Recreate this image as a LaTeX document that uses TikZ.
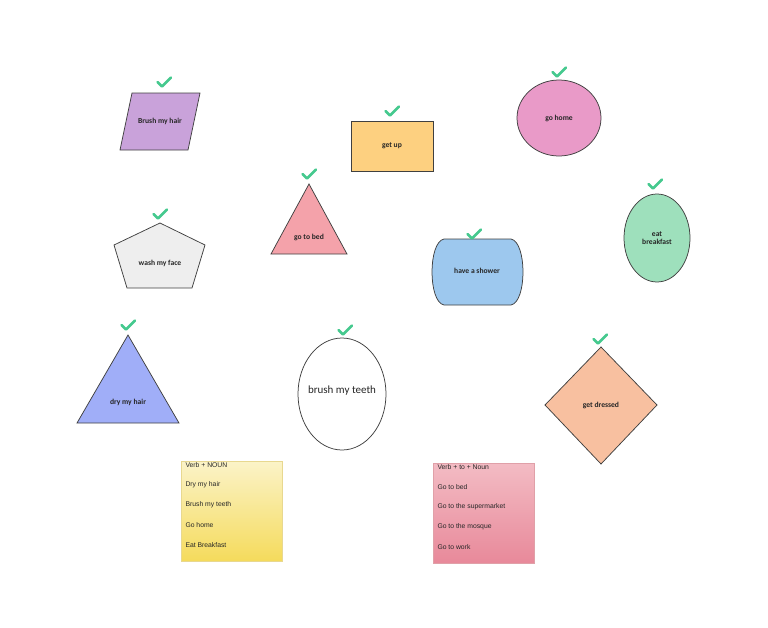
\documentclass[tikz,border=0pt]{standalone}
\usepackage{fontspec}
\setmainfont{Carlito}
\newfontfamily\notefont{Liberation Sans}
\usetikzlibrary{shapes.geometric,calc}
\definecolor{cpurple}{HTML}{C9A2DA}
\definecolor{corange}{HTML}{FDD080}
\definecolor{cpink}{HTML}{E99AC8}
\definecolor{crose}{HTML}{F4A2AA}
\definecolor{cgrey}{HTML}{EEEEEE}
\definecolor{cblue}{HTML}{9DC8EE}
\definecolor{cmint}{HTML}{9EE0BC}
\definecolor{cperi}{HTML}{A0AEF8}
\definecolor{cpeach}{HTML}{F8C0A0}
\definecolor{ccheck}{HTML}{45C98E}
\definecolor{cyeltop}{HTML}{FBF3C8}
\definecolor{cyelbot}{HTML}{F5DB5C}
\definecolor{cyeledge}{HTML}{E8D890}
\definecolor{cpnktop}{HTML}{F3BCC4}
\definecolor{cpnkbot}{HTML}{E8899A}
\definecolor{cpnkedge}{HTML}{E0A0A8}
\tikzset{
  shapebox/.style={draw=black!75, line width=0.75pt},
  lbl/.style={font=\bfseries\fontsize{7.6}{8.6}\selectfont, text=black!85, align=center},
  notetxt/.style={font=\notefont\fontsize{6.8}{7}\selectfont, text=black!85, anchor=west},
  chk/.style={draw=ccheck, line width=2.5pt, line cap=round, line join=round}
}
\newcommand\checkat[2]{\draw[chk] ($(#1,#2)+(-6.5,0)$) -- ($(#1,#2)+(-2,4.5)$) -- ($(#1,#2)+(7,-4.5)$);}
\begin{document}
\begin{tikzpicture}[x=1pt,y=-1pt]
\useasboundingbox (0,0) rectangle (768,627);
% Brush my hair
\path[shapebox, fill=cpurple] (120,150) -- (132,93) -- (200,93) -- (188,150) -- cycle;
\node[lbl] (brushhair) at (160,121) {Brush my hair};
\checkat{164}{82}
% get up
\path[shapebox, fill=corange] (351,121) rectangle (433,171);
\node[lbl] (getup) at (392,146) {get up};
\checkat{392}{111}
% go home
\path[shapebox, fill=cpink] (559,118) ellipse [x radius=42, y radius=38];
\node[lbl] (gohome) at (559,118) {go home};
\checkat{559}{72}
% go to bed
\path[shapebox, fill=crose] (309,184) -- (347,254) -- (271,254) -- cycle;
\node[lbl] (gotobed) at (309,237) {go to bed};
\checkat{309}{174}
% wash my face
\path[shapebox, fill=cgrey] (160,223) -- (205,245) -- (192,288) -- (127,288) -- (114,245) -- cycle;
\node[lbl] (washface) at (160,263) {wash my face};
\checkat{160}{214}
% have a shower
\path[shapebox, fill=cblue] (444,239) -- (511,239) .. controls (527,242) and (527,302) .. (511,305) -- (444,305) .. controls (428,302) and (428,242) .. (444,239) -- cycle;
\node[lbl] (shower) at (477,271) {have a shower};
\checkat{474}{234}
% eat breakfast
\path[shapebox, fill=cmint] (657,238) ellipse [x radius=33, y radius=44];
\node[lbl] (breakfast) at (657,238) {eat\\breakfast};
\checkat{655}{184}
% dry my hair
\path[shapebox, fill=cperi] (128,335) -- (179,423) -- (77,423) -- cycle;
\node[lbl] (dryhair) at (128,402) {dry my hair};
\checkat{128}{325}
% brush my teeth
\path[draw=black!75, line width=0.75pt, fill=white] (342,394) ellipse [x radius=44, y radius=56];
\node[font=\fontsize{11}{12}\selectfont, text=black!85] (teeth) at (342,391) {brush my teeth};
\checkat{345}{330}
% get dressed
\path[shapebox, fill=cpeach] (601,347) -- (657,405) -- (601,464) -- (545,405) -- cycle;
\node[lbl] (dressed) at (601,405) {get dressed};
\checkat{600}{339}
% yellow note
\path[draw=cyeledge, line width=0.6pt, top color=cyeltop, bottom color=cyelbot] (181,461) rectangle (282,561);
\node[notetxt] (y1) at (182,465) {Verb + NOUN};
\node[notetxt] (y2) at (182,485) {Dry my hair};
\node[notetxt] (y3) at (182,505) {Brush my teeth};
\node[notetxt] (y4) at (182,525) {Go home};
\node[notetxt] (y5) at (182,545) {Eat Breakfast};
% pink note
\path[draw=cpnkedge, line width=0.6pt, top color=cpnktop, bottom color=cpnkbot] (433,463) rectangle (534,563);
\node[notetxt] (p1) at (434,467) {Verb + to + Noun};
\node[notetxt] (p2) at (434,487) {Go to bed};
\node[notetxt] (p3) at (434,507) {Go to the supermarket};
\node[notetxt] (p4) at (434,527) {Go to the mosque};
\node[notetxt] (p5) at (434,547) {Go to work};
\end{tikzpicture}
\end{document}
